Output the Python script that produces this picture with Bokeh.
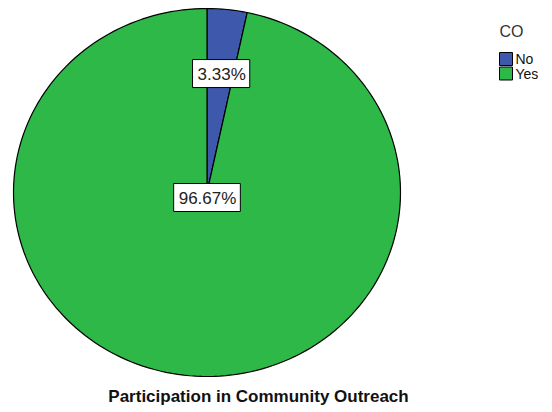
import math
from bokeh.plotting import figure
from bokeh.models import Range1d, ColumnDataSource
from bokeh.core.properties import value
from bokeh.embed import file_html
from bokeh.resources import INLINE

categories = ["No", "Yes"]
percents = [3.33, 96.67]
colors = ["#3E58AC", "#2EB848"]
title_text = "Participation in Community Outreach"
legend_title = "CO"

W, H = 552, 412
cx, cy, rx, ry = 206.5, 192.0, 193.5, 184.0

p = figure(width=W, height=H, output_backend="svg", toolbar_location=None,
           x_range=Range1d(0, W), y_range=Range1d(H, 0), min_border=0)
p.axis.visible = False
p.grid.visible = False
p.outline_line_color = None
p.background_fill_color = "white"
p.border_fill_color = "white"

# wedges (ellipse-shaped, clockwise from top)
total = sum(percents)
xs, ys = [], []
start = 0.0
lab_x, lab_y = [], []
for i, v in enumerate(percents):
    end = start + v / total * 2 * math.pi
    n = max(4, int(200 * (end - start) / (2 * math.pi)) + 2)
    px, py = [cx], [cy]
    for k in range(n + 1):
        t = start + (end - start) * k / n
        px.append(cx + rx * math.sin(t))
        py.append(cy - ry * math.cos(t))
    xs.append(px)
    ys.append(py)
    mid = (start + end) / 2
    if v / total < 0.5:
        lab_x.append(cx + 0.70 * rx * math.sin(mid))
        lab_y.append(cy - 0.65 * ry * math.cos(mid))
    else:
        lab_x.append(cx)
        lab_y.append(cy + 5)
    start = end

src = ColumnDataSource(dict(xs=xs, ys=ys, color=colors))
p.patches("xs", "ys", source=src, fill_color="color", line_color="black", line_width=1.2)

labels = ["%.2f%%" % v for v in percents]
p.text(x=lab_x, y=lab_y, text=labels, text_align="center", text_baseline="middle",
       text_font=value("Liberation Sans"), text_font_size="17px", text_color="#222222",
       background_fill_color="white", border_line_color="black", border_line_width=1,
       padding=[5, 4, 5, 4])

# title
p.text(x=[258], y=[396], text=[title_text], text_align="center", text_baseline="middle",
       text_font=value("Liberation Sans"), text_font_style="bold", text_font_size="17px",
       text_color="#111111")

# legend
p.text(x=[499], y=[31], text=[legend_title], text_align="left", text_baseline="middle",
       text_font=value("Liberation Sans"), text_font_size="16px", text_color="#333333")
leg_y = [58.5, 73.0]
p.rect(x=[505.5] * 2, y=leg_y, width=13, height=13, fill_color=colors, line_color="black", line_width=1)
p.text(x=[515] * 2, y=leg_y, text=categories, text_align="left", text_baseline="middle",
       text_font=value("Liberation Sans"), text_font_size="14px", text_color="#111111")

open("out.html", "w").write(file_html(p, INLINE))
